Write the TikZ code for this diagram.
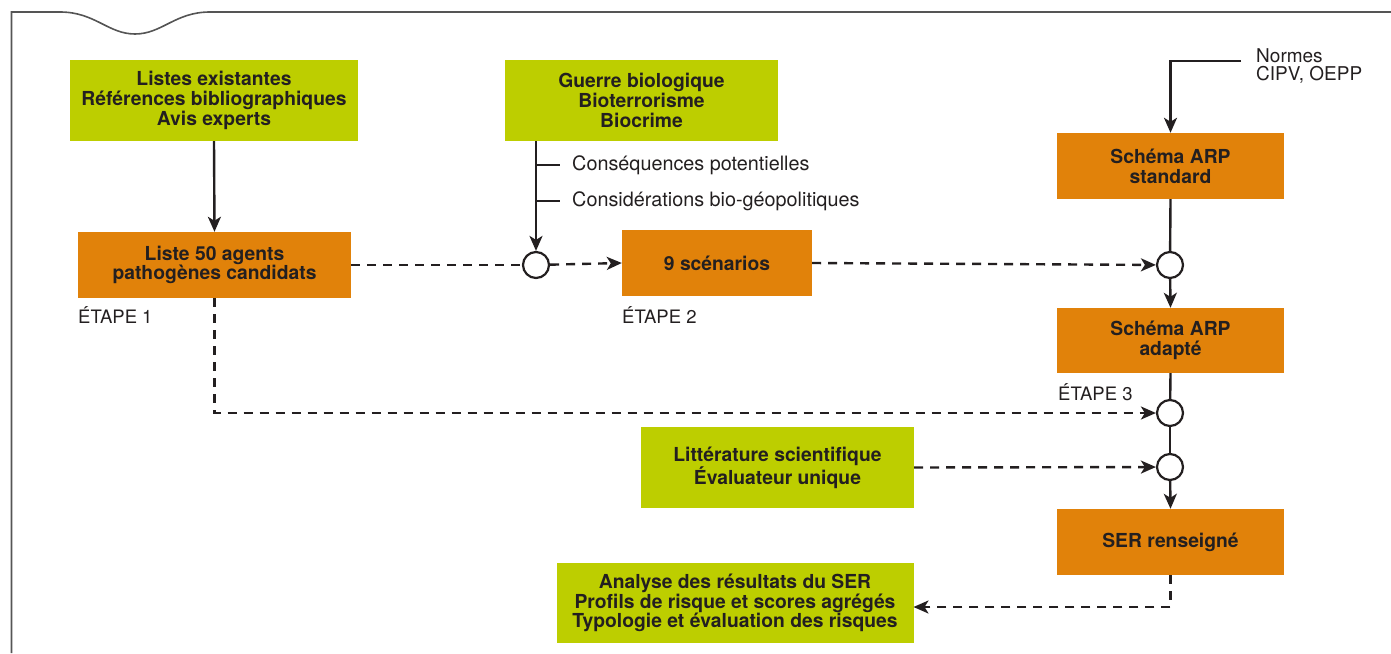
\documentclass[tikz,border=0pt]{standalone}
\usepackage{fontspec}
\setmainfont{TeX Gyre Heros}
\usetikzlibrary{arrows.meta}
\definecolor{lime}{RGB}{189,206,0}
\definecolor{ochre}{RGB}{225,130,10}
\definecolor{ink}{RGB}{35,31,32}
\definecolor{framegrey}{RGB}{85,85,85}
\tikzset{
  box/.style={rectangle, inner sep=0pt, align=center, text=ink,
    font=\bfseries\fontsize{19.3}{19.8}\selectfont},
  greenbox/.style={box, fill=lime},
  orangebox/.style={box, fill=ochre},
  junction/.style={circle, draw=ink, fill=white, line width=2.2pt, minimum size=26pt, inner sep=0pt},
  conn/.style={draw=ink, line width=2.4pt},
  dconn/.style={conn, dash pattern=on 9pt off 7pt},
  tip/.style={-{Stealth[length=15pt,width=13pt,inset=4pt]}},
  lbl/.style={text=ink, inner sep=0pt, font=\fontsize{19.8}{18}\selectfont},
  steplbl/.style={text=ink, inner sep=0pt, anchor=west, font=\fontsize{18.5}{18}\selectfont},
}
\begin{document}
\begin{tikzpicture}[x=1pt,y=-1pt]
\useasboundingbox (0,0) rectangle (1391,653);
% frame
\draw[framegrey, line width=1.6pt] (11.5,653) -- (11.5,12) -- (60,12)
  .. controls (95,12) and (108,34) .. (135,34)
  .. controls (162,34) and (175,12) .. (210,12) -- (1391,12);

% boxes
\node[greenbox, minimum width=288pt, minimum height=81pt] (A) at (214,100.5)
  {Listes existantes\\Références bibliographiques\\Avis experts};
\node[orangebox, minimum width=273pt, minimum height=66pt] (B) at (214.5,265)
  {Liste 50 agents\\pathogènes candidats};
\node[greenbox, minimum width=273pt, minimum height=81pt] (C) at (641.5,100.5)
  {Guerre biologique\\Bioterrorisme\\Biocrime};
\node[orangebox, minimum width=190pt, minimum height=66pt] (D) at (717,263)
  {9 scénarios};
\node[orangebox, minimum width=227pt, minimum height=66pt] (E) at (1170.5,166)
  {Schéma ARP\\standard};
\node[orangebox, minimum width=227pt, minimum height=65pt] (F) at (1170.5,340.5)
  {Schéma ARP\\adapté};
\node[greenbox, minimum width=273pt, minimum height=81pt] (G) at (777.5,467.5)
  {Littérature scientifique\\Évaluateur unique};
\node[orangebox, minimum width=227pt, minimum height=66pt] (H) at (1170.5,542)
  {SER renseigné};
\node[greenbox, minimum width=357pt, minimum height=80pt] (I) at (735,603)
  {Analyse des résultats du SER\\Profils de risque et scores agrégés\\Typologie et évaluation des risques};

% junctions
\node[junction] (c1) at (536,265) {};
\node[junction] (c2) at (1170,265) {};
\node[junction] (c3) at (1170,413) {};
\node[junction] (c4) at (1170,467) {};

% labels
\node[steplbl] (s1) at (78,315) {ÉTAPE 1};
\node[steplbl] (s2) at (622,315) {ÉTAPE 2};
\node[steplbl] (s3) at (1058,392) {ÉTAPE 3};
\node[lbl, anchor=west] (l1) at (572,165) {Conséquences potentielles};
\node[lbl, anchor=west] (l2) at (572,201) {Considérations bio-géopolitiques};
\node[lbl, anchor=north west, align=left, font=\fontsize{19}{18}\selectfont] (N) at (1256,48) {Normes\\CIPV, OEPP};
\coordinate (b1) at (536,165);
\coordinate (b2) at (536,201);
\coordinate (nstart) at (1241,61);
\coordinate (iend) at (913.5,607);

% connectors
\draw[conn, tip] (A.south) -- (B.north);
\draw[dconn] (B.east) -- (c1);
\draw[conn, tip] (c1 |- C.south) -- (c1);
\draw[conn] (b1) -- ++(24,0);
\draw[conn] (b2) -- ++(24,0);
\draw[dconn, tip] (c1) -- (D.west);
\draw[dconn, tip] (D.east) -- (c2);
\draw[conn, tip] (nstart) -| (E.north);
\draw[conn] (E.south) -- (c2);
\draw[conn, tip] (c2) -- (F.north);
\draw[conn] (F.south) -- (c3);
\draw[dconn, tip] (B.south) |- (c3);
\draw[conn] (c3) -- (c4);
\draw[dconn, tip] (G.east) -- (c4);
\draw[conn, tip] (c4) -- (H.north);
\draw[dconn, tip] (H.south) |- (iend);
\end{tikzpicture}
\end{document}
